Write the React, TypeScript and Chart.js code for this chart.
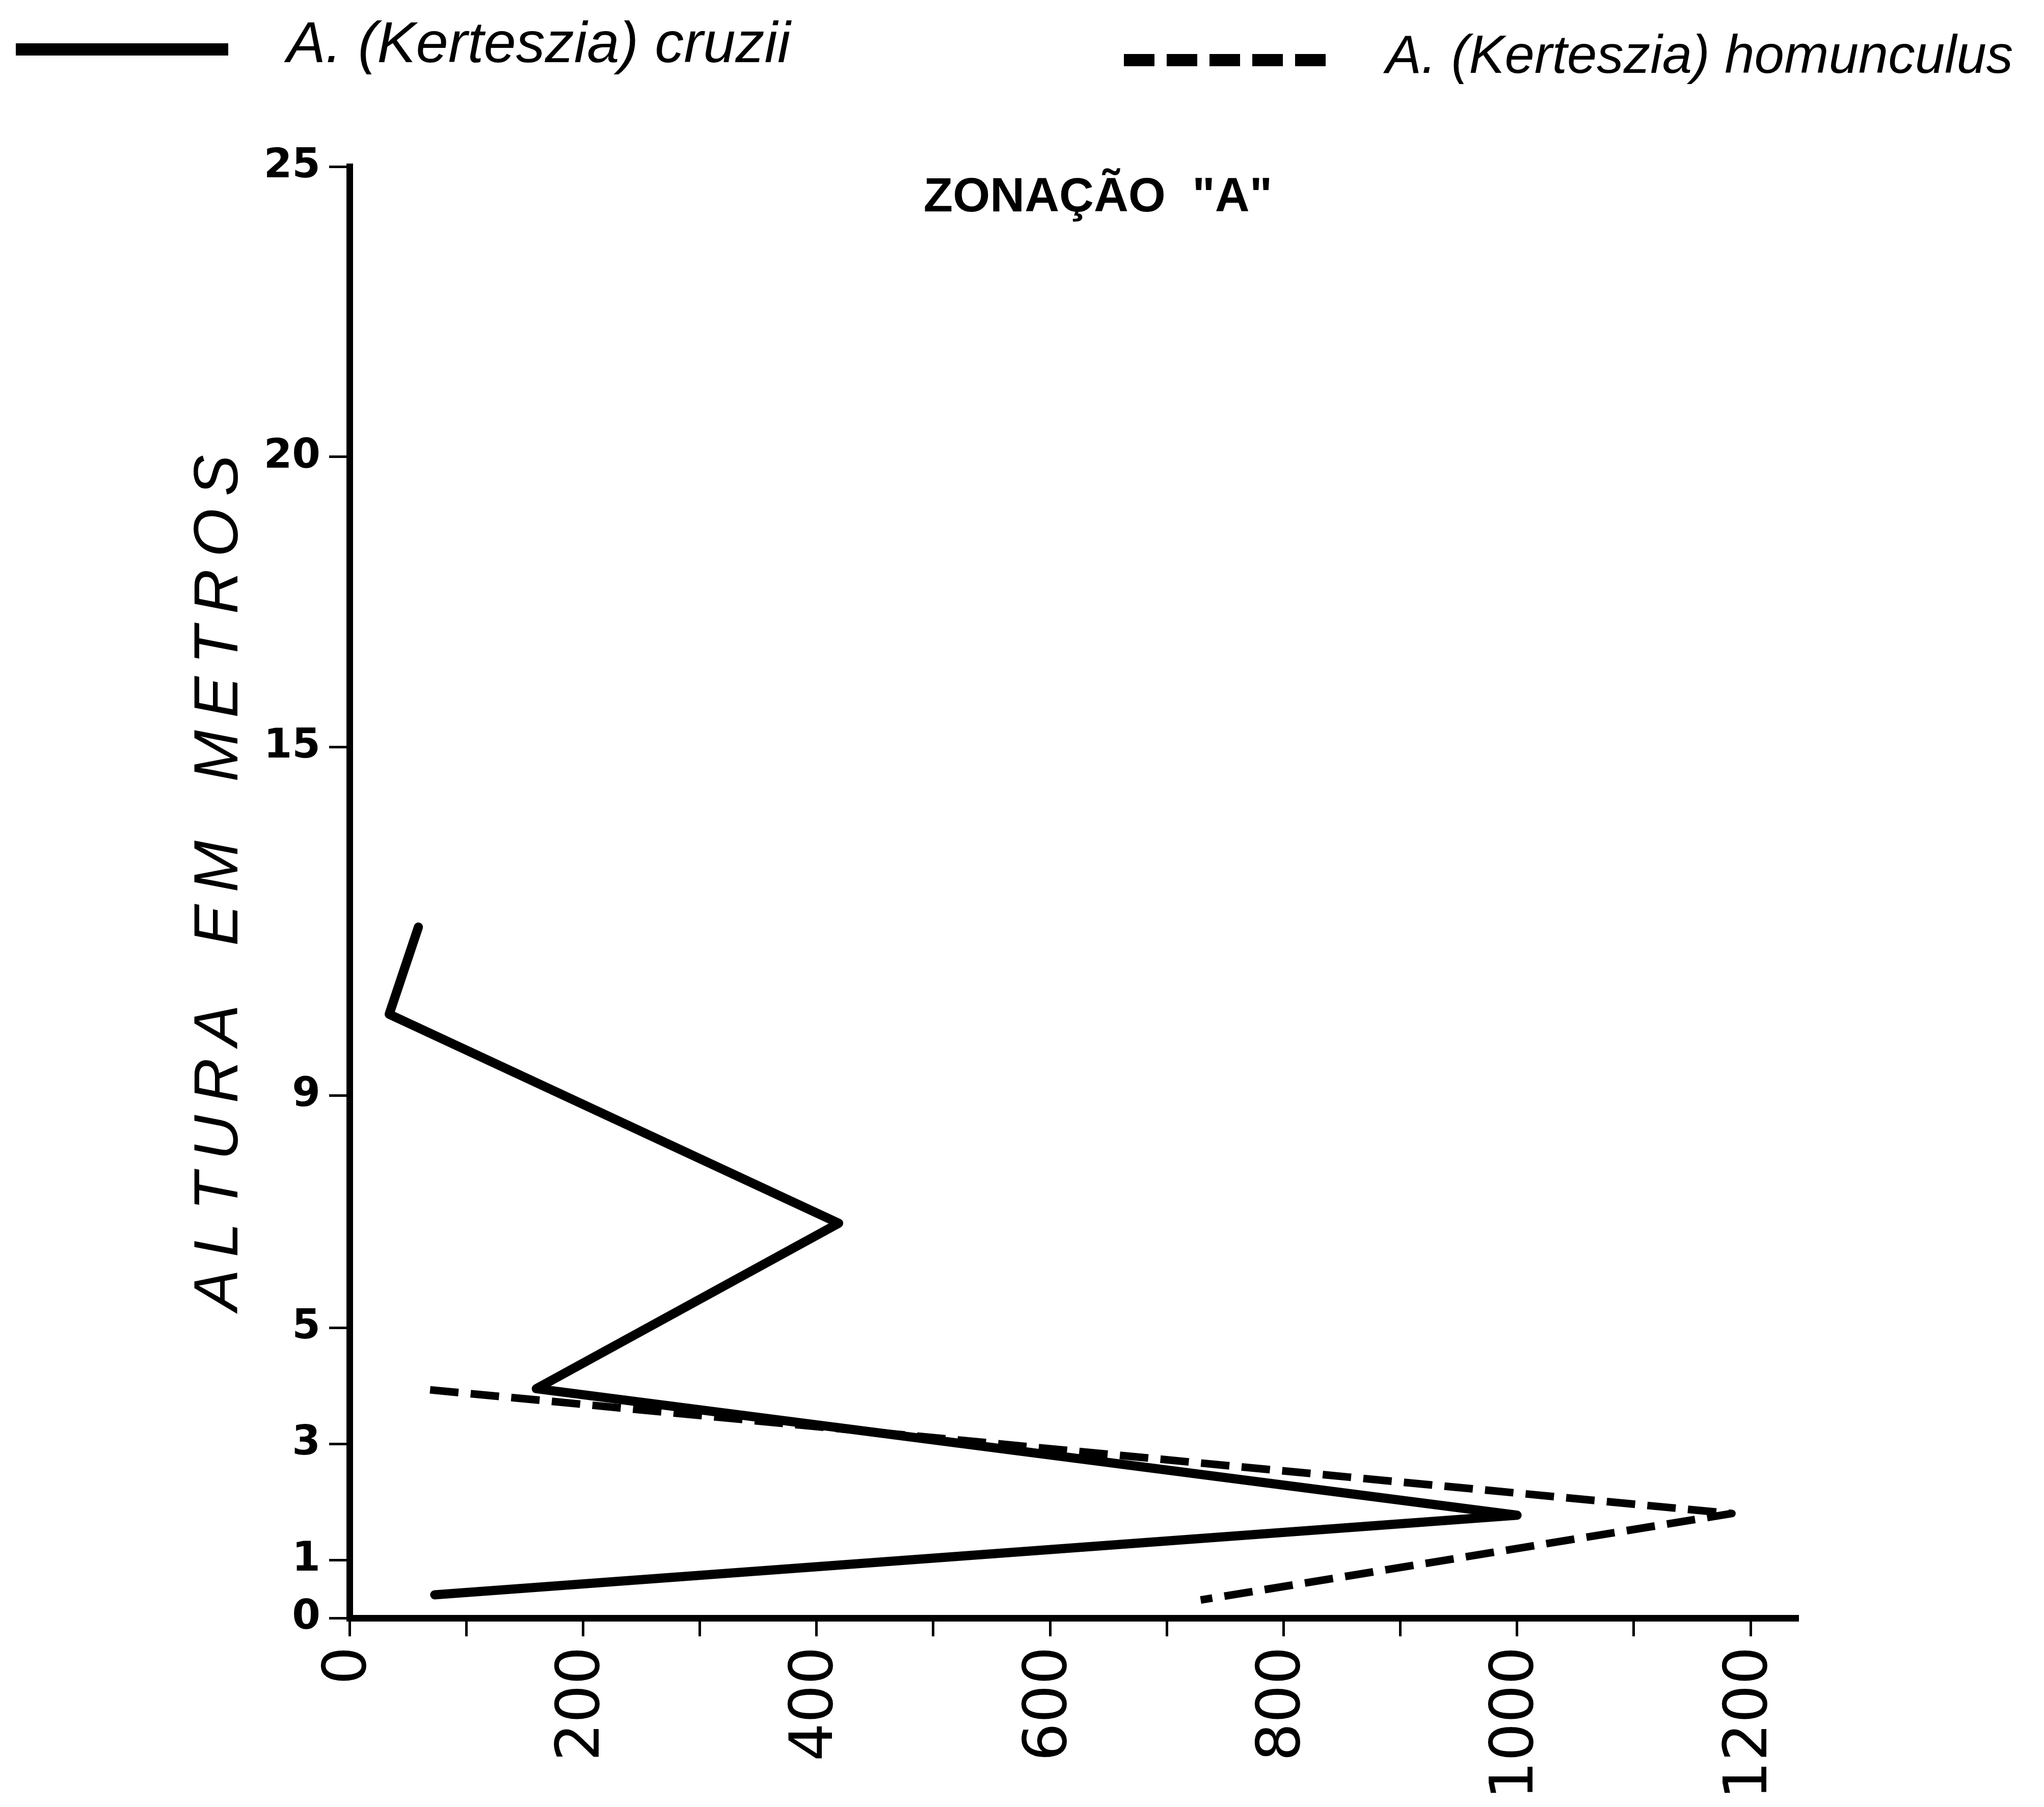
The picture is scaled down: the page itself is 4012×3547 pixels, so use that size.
import React, { useEffect, useRef } from "react";
import { Chart, registerables } from "chart.js";

Chart.register(...registerables);

// ---- data ----
const cruziiX = [59, 34, 419, 160, 1000, 73];
const cruziiY = [11.9, 10.4, 6.8, 3.95, 1.77, 0.4];
const homunculusX = [69, 1184, 729];
const homunculusY = [3.93, 1.8, 0.31];

const xTickValues = [0, 100, 200, 300, 400, 500, 600, 700, 800, 900, 1000, 1100, 1200];
const xLabelledTicks = [0, 200, 400, 600, 800, 1000, 1200];
const yTickValues = [0, 1, 3, 5, 9, 15, 20, 25];

const seriesNames = ["A. (Kerteszia) cruzii", "A. (Kerteszia) homunculus"];
const titleText = 'ZONAÇÃO  "A"';
const yAxisWords = ["ALTURA", "EM", "METROS"];

const W = 4012;
const H = 3547;

const decorPlugin = {
  id: "decor",
  afterDraw(chart: any) {
    const ctx = chart.ctx as CanvasRenderingContext2D;
    ctx.save();
    ctx.fillStyle = "#000";
    ctx.strokeStyle = "#000";

    // Title
    ctx.font = 'bold 94px "Liberation Sans"';
    ctx.textAlign = "center";
    ctx.textBaseline = "alphabetic";
    ctx.fillText(titleText, 2155, 415);

    // Legend: solid
    ctx.lineWidth = 24;
    ctx.setLineDash([]);
    ctx.beginPath();
    ctx.moveTo(31, 97);
    ctx.lineTo(448, 97);
    ctx.stroke();
    ctx.font = 'italic 114px "Liberation Sans"';
    ctx.textAlign = "left";
    ctx.fillText(seriesNames[0], 563, 122);

    // Legend: dashed
    ctx.setLineDash([60, 24]);
    ctx.beginPath();
    ctx.moveTo(2206, 118);
    ctx.lineTo(2614, 118);
    ctx.stroke();
    ctx.setLineDash([]);
    ctx.font = 'italic 105px "Liberation Sans"';
    ctx.fillText(seriesNames[1], 2720, 143);

    // Y axis title, widely spaced, reading bottom-to-top
    ctx.font = 'italic 122px "Liberation Sans"';
    const spacing = 24;
    const wordGap = 115;
    let total = 0;
    yAxisWords.forEach((w, wi) => {
      for (let i = 0; i < w.length; i++) {
        total += ctx.measureText(w[i]).width;
        if (i < w.length - 1) total += spacing;
      }
      if (wi < yAxisWords.length - 1) total += wordGap;
    });
    ctx.translate(422, 1733);
    ctx.rotate(-Math.PI / 2);
    ctx.textAlign = "left";
    let pos = -total / 2;
    yAxisWords.forEach((w, wi) => {
      for (let i = 0; i < w.length; i++) {
        ctx.fillText(w[i], pos, 44);
        pos += ctx.measureText(w[i]).width;
        if (i < w.length - 1) pos += spacing;
      }
      if (wi < yAxisWords.length - 1) pos += wordGap;
    });
    ctx.restore();
  },
};

export default function App() {
  const ref = useRef<HTMLCanvasElement | null>(null);

  useEffect(() => {
    if (!ref.current) return;
    const chart = new Chart(ref.current, {
      type: "scatter",
      data: {
        datasets: [
          {
            label: seriesNames[0],
            data: cruziiX.map((x, i) => ({ x, y: cruziiY[i] })),
            showLine: true,
            borderColor: "#000",
            borderWidth: 18,
            pointRadius: 0,
            tension: 0,
            borderJoinStyle: "round",
            borderCapStyle: "round",
            clip: false as any,
          },
          {
            label: seriesNames[1],
            data: homunculusX.map((x, i) => ({ x, y: homunculusY[i] })),
            showLine: true,
            borderColor: "#000",
            borderWidth: 15,
            borderDash: [56, 24],
            pointRadius: 0,
            tension: 0,
            borderJoinStyle: "round",
            clip: false as any,
          },
        ],
      },
      options: {
        animation: false,
        responsive: false,
        devicePixelRatio: 1,
        layout: { padding: { top: 327, right: 482, left: 0, bottom: 0 } },
        plugins: {
          legend: { display: false },
          tooltip: { enabled: false },
          title: { display: false },
        },
        scales: {
          x: {
            type: "linear",
            min: 0,
            max: 1241,
            position: "bottom",
            afterBuildTicks: (s: any) => {
              s.ticks = xTickValues.map((v) => ({ value: v }));
            },
            afterFit: (s: any) => {
              s.height = H - 3176;
            },
            grid: {
              display: true,
              drawOnChartArea: false,
              drawTicks: true,
              tickLength: 36,
              tickWidth: 5,
              tickColor: "#000",
            },
            border: { display: true, color: "#000", width: 13 },
            ticks: {
              autoSkip: false,
              minRotation: 90,
              maxRotation: 90,
              padding: 20,
              color: "#000",
              font: { family: "DejaVu Sans", size: 118 },
              callback: (v: any) => (xLabelledTicks.includes(Number(v)) ? String(v) : ""),
            },
          },
          y: {
            type: "linear",
            min: 0,
            max: 25,
            afterBuildTicks: (s: any) => {
              s.ticks = yTickValues.map((v) => ({ value: v }));
            },
            afterFit: (s: any) => {
              s.width = 686;
            },
            grid: {
              display: true,
              drawOnChartArea: false,
              drawTicks: true,
              tickLength: 40,
              tickWidth: 5,
              tickColor: "#000",
            },
            border: { display: true, color: "#000", width: 13 },
            ticks: {
              autoSkip: false,
              padding: 17,
              color: "#000",
              font: { family: "DejaVu Sans", size: 80, weight: "bold" },
              callback: (v: any) => String(v),
            },
          },
        },
      },
      plugins: [decorPlugin],
    } as any);
    return () => chart.destroy();
  }, []);

  return (
    <div style={{ position: "fixed", left: 0, top: 0, width: W, height: H, background: "#fff" }}>
      <canvas ref={ref} width={W} height={H} style={{ display: "block", width: W, height: H }} />
    </div>
  );
}
